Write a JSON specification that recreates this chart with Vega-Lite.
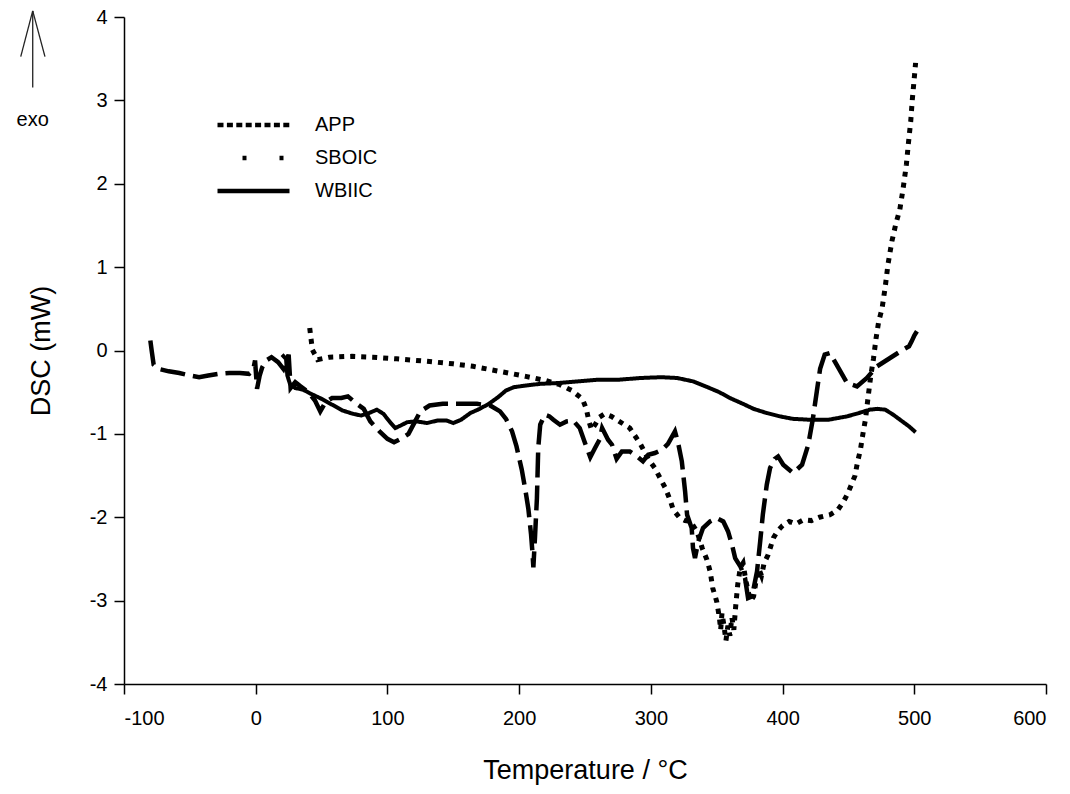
{
  "$schema": "https://vega.github.io/schema/vega-lite/v6.json",
  "width": 922,
  "height": 667,
  "autosize": {"type": "none"},
  "padding": {"left": 124, "top": 17, "right": 24, "bottom": 110},
  "background": "white",
  "config": {
    "view": {"stroke": null},
    "font": "Liberation Sans",
    "axis": {"grid": false, "domainColor": "black", "domainWidth": 1.5, "tickColor": "black", "tickWidth": 1.5, "tickSize": 10, "labelColor": "black", "labelFont": "Liberation Sans", "labelFontSize": 20, "titleFont": "Liberation Sans", "titleFontSize": 27, "titleFontWeight": "normal", "titleColor": "black", "labelExpr": "datum.value + ''"}
  },
  "resolve": {"scale": {"strokeDash": "independent"}, "legend": {"strokeDash": "independent"}},
  "datasets": {
    "dsc": [
      {"s":"APP","T":41,"v":0.27},{"s":"APP","T":42,"v":0.14},{"s":"APP","T":43,"v":0.01},{"s":"APP","T":47,"v":-0.11},{"s":"APP","T":56,"v":-0.08},{"s":"APP","T":73,"v":-0.07},{"s":"APP","T":89,"v":-0.08},{"s":"APP","T":107,"v":-0.10},{"s":"APP","T":130,"v":-0.13},{"s":"APP","T":150,"v":-0.16},{"s":"APP","T":165,"v":-0.19},{"s":"APP","T":185,"v":-0.25},{"s":"APP","T":205,"v":-0.31},{"s":"APP","T":220,"v":-0.36},{"s":"APP","T":231,"v":-0.41},{"s":"APP","T":240,"v":-0.48},{"s":"APP","T":244,"v":-0.53},{"s":"APP","T":248,"v":-0.58},{"s":"APP","T":251,"v":-0.70},{"s":"APP","T":253,"v":-0.85},{"s":"APP","T":255,"v":-0.95},{"s":"APP","T":258,"v":-0.88},{"s":"APP","T":261,"v":-0.80},{"s":"APP","T":265,"v":-0.76},{"s":"APP","T":270,"v":-0.79},{"s":"APP","T":275,"v":-0.84},{"s":"APP","T":284,"v":-0.93},{"s":"APP","T":292,"v":-1.12},{"s":"APP","T":298,"v":-1.30},{"s":"APP","T":303,"v":-1.41},{"s":"APP","T":307,"v":-1.53},{"s":"APP","T":311,"v":-1.65},{"s":"APP","T":314.5,"v":-1.79},{"s":"APP","T":317,"v":-1.91},{"s":"APP","T":322,"v":-2.01},{"s":"APP","T":326,"v":-2.04},{"s":"APP","T":330,"v":-2.05},{"s":"APP","T":335,"v":-2.17},{"s":"APP","T":339,"v":-2.37},{"s":"APP","T":342.6,"v":-2.51},{"s":"APP","T":345,"v":-2.65},{"s":"APP","T":347,"v":-2.85},{"s":"APP","T":350,"v":-3.01},{"s":"APP","T":352,"v":-3.2},{"s":"APP","T":353,"v":-3.35},{"s":"APP","T":354,"v":-3.15},{"s":"APP","T":355.5,"v":-3.3},{"s":"APP","T":357,"v":-3.48},{"s":"APP","T":358.5,"v":-3.3},{"s":"APP","T":360,"v":-3.42},{"s":"APP","T":361.5,"v":-3.2},{"s":"APP","T":363,"v":-3.35},{"s":"APP","T":364.5,"v":-3.05},{"s":"APP","T":366,"v":-2.8},{"s":"APP","T":368,"v":-2.6},{"s":"APP","T":370,"v":-2.55},{"s":"APP","T":372,"v":-2.75},{"s":"APP","T":374,"v":-2.9},{"s":"APP","T":376,"v":-3.0},{"s":"APP","T":378,"v":-2.95},{"s":"APP","T":380,"v":-2.75},{"s":"APP","T":382,"v":-2.62},{"s":"APP","T":384,"v":-2.7},{"s":"APP","T":386,"v":-2.55},{"s":"APP","T":389,"v":-2.45},{"s":"APP","T":391,"v":-2.35},{"s":"APP","T":393,"v":-2.25},{"s":"APP","T":396,"v":-2.17},{"s":"APP","T":400,"v":-2.1},{"s":"APP","T":405,"v":-2.05},{"s":"APP","T":410,"v":-2.08},{"s":"APP","T":416,"v":-2.03},{"s":"APP","T":422,"v":-2.04},{"s":"APP","T":428,"v":-2.0},{"s":"APP","T":436,"v":-1.97},{"s":"APP","T":442,"v":-1.91},{"s":"APP","T":446,"v":-1.82},{"s":"APP","T":449,"v":-1.73},{"s":"APP","T":452,"v":-1.62},{"s":"APP","T":455,"v":-1.5},{"s":"APP","T":457,"v":-1.33},{"s":"APP","T":459,"v":-1.2},{"s":"APP","T":461,"v":-1.0},{"s":"APP","T":463,"v":-0.82},{"s":"APP","T":465,"v":-0.55},{"s":"APP","T":467,"v":-0.3},{"s":"APP","T":469,"v":-0.1},{"s":"APP","T":471,"v":0.15},{"s":"APP","T":473,"v":0.35},{"s":"APP","T":475.5,"v":0.5},{"s":"APP","T":478,"v":0.77},{"s":"APP","T":480,"v":1.03},{"s":"APP","T":483,"v":1.31},{"s":"APP","T":486,"v":1.52},{"s":"APP","T":489,"v":1.69},{"s":"APP","T":491.5,"v":1.94},{"s":"APP","T":494,"v":2.23},{"s":"APP","T":495.5,"v":2.48},{"s":"APP","T":497.3,"v":2.75},{"s":"APP","T":498.5,"v":3.01},{"s":"APP","T":500,"v":3.27},{"s":"APP","T":501,"v":3.45},
      {"s":"SBOIC","T":-80,"v":0.12},{"s":"SBOIC","T":-79,"v":0.0},{"s":"SBOIC","T":-77.5,"v":-0.17},{"s":"SBOIC","T":-74,"v":-0.22},{"s":"SBOIC","T":-66,"v":-0.25},{"s":"SBOIC","T":-58,"v":-0.27},{"s":"SBOIC","T":-50,"v":-0.3},{"s":"SBOIC","T":-43,"v":-0.32},{"s":"SBOIC","T":-36,"v":-0.3},{"s":"SBOIC","T":-28,"v":-0.28},{"s":"SBOIC","T":-20,"v":-0.27},{"s":"SBOIC","T":-12,"v":-0.27},{"s":"SBOIC","T":-5,"v":-0.28},{"s":"SBOIC","T":-2,"v":-0.24},{"s":"SBOIC","T":-0.5,"v":-0.12},{"s":"SBOIC","T":1,"v":-0.46},{"s":"SBOIC","T":3,"v":-0.3},{"s":"SBOIC","T":5,"v":-0.2},{"s":"SBOIC","T":8,"v":-0.12},{"s":"SBOIC","T":12,"v":-0.08},{"s":"SBOIC","T":17,"v":-0.14},{"s":"SBOIC","T":21,"v":-0.22},{"s":"SBOIC","T":25,"v":-0.05},{"s":"SBOIC","T":26.5,"v":-0.45},{"s":"SBOIC","T":30,"v":-0.38},{"s":"SBOIC","T":34,"v":-0.43},{"s":"SBOIC","T":40,"v":-0.5},{"s":"SBOIC","T":45,"v":-0.6},{"s":"SBOIC","T":49,"v":-0.73},{"s":"SBOIC","T":53,"v":-0.62},{"s":"SBOIC","T":58,"v":-0.57},{"s":"SBOIC","T":65,"v":-0.57},{"s":"SBOIC","T":70,"v":-0.55},{"s":"SBOIC","T":76,"v":-0.63},{"s":"SBOIC","T":82,"v":-0.7},{"s":"SBOIC","T":87,"v":-0.85},{"s":"SBOIC","T":94,"v":-0.97},{"s":"SBOIC","T":100,"v":-1.06},{"s":"SBOIC","T":105,"v":-1.1},{"s":"SBOIC","T":110,"v":-1.06},{"s":"SBOIC","T":116,"v":-1.0},{"s":"SBOIC","T":120,"v":-0.88},{"s":"SBOIC","T":125,"v":-0.73},{"s":"SBOIC","T":132,"v":-0.66},{"s":"SBOIC","T":142,"v":-0.64},{"s":"SBOIC","T":155,"v":-0.64},{"s":"SBOIC","T":168,"v":-0.64},{"s":"SBOIC","T":178,"v":-0.66},{"s":"SBOIC","T":185.5,"v":-0.73},{"s":"SBOIC","T":190,"v":-0.82},{"s":"SBOIC","T":194.6,"v":-0.97},{"s":"SBOIC","T":198,"v":-1.15},{"s":"SBOIC","T":202,"v":-1.43},{"s":"SBOIC","T":205,"v":-1.7},{"s":"SBOIC","T":207,"v":-1.9},{"s":"SBOIC","T":209,"v":-2.2},{"s":"SBOIC","T":210,"v":-2.4},{"s":"SBOIC","T":210.8,"v":-2.6},{"s":"SBOIC","T":212,"v":-2.25},{"s":"SBOIC","T":213.5,"v":-1.77},{"s":"SBOIC","T":214.5,"v":-1.17},{"s":"SBOIC","T":216,"v":-0.89},{"s":"SBOIC","T":219.5,"v":-0.77},{"s":"SBOIC","T":223,"v":-0.79},{"s":"SBOIC","T":226,"v":-0.83},{"s":"SBOIC","T":231,"v":-0.89},{"s":"SBOIC","T":236,"v":-0.85},{"s":"SBOIC","T":241,"v":-0.84},{"s":"SBOIC","T":246,"v":-0.93},{"s":"SBOIC","T":250,"v":-1.11},{"s":"SBOIC","T":254,"v":-1.28},{"s":"SBOIC","T":257.6,"v":-1.17},{"s":"SBOIC","T":261,"v":-1.07},{"s":"SBOIC","T":263,"v":-0.93},{"s":"SBOIC","T":267.5,"v":-1.07},{"s":"SBOIC","T":270.5,"v":-1.13},{"s":"SBOIC","T":274,"v":-1.3},{"s":"SBOIC","T":278,"v":-1.21},{"s":"SBOIC","T":284,"v":-1.21},{"s":"SBOIC","T":289.5,"v":-1.27},{"s":"SBOIC","T":294,"v":-1.33},{"s":"SBOIC","T":298,"v":-1.25},{"s":"SBOIC","T":303,"v":-1.23},{"s":"SBOIC","T":308.5,"v":-1.19},{"s":"SBOIC","T":313,"v":-1.12},{"s":"SBOIC","T":318.3,"v":-0.97},{"s":"SBOIC","T":320.6,"v":-1.1},{"s":"SBOIC","T":323.5,"v":-1.33},{"s":"SBOIC","T":326,"v":-1.69},{"s":"SBOIC","T":327.5,"v":-1.97},{"s":"SBOIC","T":331,"v":-2.13},{"s":"SBOIC","T":332,"v":-2.37},{"s":"SBOIC","T":333.5,"v":-2.49},{"s":"SBOIC","T":336,"v":-2.29},{"s":"SBOIC","T":339.6,"v":-2.13},{"s":"SBOIC","T":345,"v":-2.05},{"s":"SBOIC","T":350,"v":-2.01},{"s":"SBOIC","T":355,"v":-2.05},{"s":"SBOIC","T":358.6,"v":-2.17},{"s":"SBOIC","T":361.6,"v":-2.33},{"s":"SBOIC","T":364,"v":-2.49},{"s":"SBOIC","T":368,"v":-2.59},{"s":"SBOIC","T":371.5,"v":-2.73},{"s":"SBOIC","T":373.8,"v":-2.97},{"s":"SBOIC","T":376.8,"v":-2.95},{"s":"SBOIC","T":380.6,"v":-2.65},{"s":"SBOIC","T":383,"v":-2.29},{"s":"SBOIC","T":385,"v":-1.97},{"s":"SBOIC","T":388,"v":-1.61},{"s":"SBOIC","T":390.5,"v":-1.41},{"s":"SBOIC","T":394,"v":-1.3},{"s":"SBOIC","T":396.6,"v":-1.27},{"s":"SBOIC","T":400.5,"v":-1.37},{"s":"SBOIC","T":408,"v":-1.47},{"s":"SBOIC","T":414.8,"v":-1.37},{"s":"SBOIC","T":419.5,"v":-1.13},{"s":"SBOIC","T":423,"v":-0.82},{"s":"SBOIC","T":426,"v":-0.49},{"s":"SBOIC","T":428.5,"v":-0.22},{"s":"SBOIC","T":432,"v":-0.05},{"s":"SBOIC","T":436,"v":-0.03},{"s":"SBOIC","T":441,"v":-0.17},{"s":"SBOIC","T":449,"v":-0.39},{"s":"SBOIC","T":456.5,"v":-0.43},{"s":"SBOIC","T":464,"v":-0.33},{"s":"SBOIC","T":471.7,"v":-0.19},{"s":"SBOIC","T":481.6,"v":-0.09},{"s":"SBOIC","T":491.5,"v":0.01},{"s":"SBOIC","T":496,"v":0.05},{"s":"SBOIC","T":498,"v":0.11},{"s":"SBOIC","T":500,"v":0.18},{"s":"SBOIC","T":502,"v":0.23},
      {"s":"WBIIC","T":20,"v":-0.05},{"s":"WBIIC","T":23,"v":-0.1},{"s":"WBIIC","T":24,"v":-0.3},{"s":"WBIIC","T":26,"v":-0.4},{"s":"WBIIC","T":30,"v":-0.45},{"s":"WBIIC","T":36,"v":-0.47},{"s":"WBIIC","T":42,"v":-0.52},{"s":"WBIIC","T":50,"v":-0.58},{"s":"WBIIC","T":58,"v":-0.65},{"s":"WBIIC","T":66,"v":-0.72},{"s":"WBIIC","T":74,"v":-0.76},{"s":"WBIIC","T":80,"v":-0.78},{"s":"WBIIC","T":86,"v":-0.75},{"s":"WBIIC","T":92,"v":-0.71},{"s":"WBIIC","T":97,"v":-0.76},{"s":"WBIIC","T":102,"v":-0.86},{"s":"WBIIC","T":106,"v":-0.93},{"s":"WBIIC","T":110,"v":-0.9},{"s":"WBIIC","T":115,"v":-0.86},{"s":"WBIIC","T":122,"v":-0.85},{"s":"WBIIC","T":130,"v":-0.87},{"s":"WBIIC","T":138,"v":-0.84},{"s":"WBIIC","T":145,"v":-0.84},{"s":"WBIIC","T":150,"v":-0.87},{"s":"WBIIC","T":156,"v":-0.83},{"s":"WBIIC","T":163,"v":-0.75},{"s":"WBIIC","T":170,"v":-0.7},{"s":"WBIIC","T":177,"v":-0.64},{"s":"WBIIC","T":184,"v":-0.56},{"s":"WBIIC","T":190,"v":-0.48},{"s":"WBIIC","T":196,"v":-0.44},{"s":"WBIIC","T":205,"v":-0.42},{"s":"WBIIC","T":216,"v":-0.4},{"s":"WBIIC","T":230,"v":-0.39},{"s":"WBIIC","T":245,"v":-0.37},{"s":"WBIIC","T":260,"v":-0.35},{"s":"WBIIC","T":276,"v":-0.35},{"s":"WBIIC","T":292,"v":-0.33},{"s":"WBIIC","T":308,"v":-0.32},{"s":"WBIIC","T":320,"v":-0.33},{"s":"WBIIC","T":332,"v":-0.37},{"s":"WBIIC","T":343,"v":-0.44},{"s":"WBIIC","T":352,"v":-0.5},{"s":"WBIIC","T":360,"v":-0.57},{"s":"WBIIC","T":370,"v":-0.64},{"s":"WBIIC","T":378,"v":-0.7},{"s":"WBIIC","T":388,"v":-0.75},{"s":"WBIIC","T":398,"v":-0.79},{"s":"WBIIC","T":408,"v":-0.82},{"s":"WBIIC","T":420,"v":-0.83},{"s":"WBIIC","T":435,"v":-0.83},{"s":"WBIIC","T":449,"v":-0.79},{"s":"WBIIC","T":458,"v":-0.75},{"s":"WBIIC","T":466,"v":-0.71},{"s":"WBIIC","T":472,"v":-0.7},{"s":"WBIIC","T":478,"v":-0.71},{"s":"WBIIC","T":484,"v":-0.77},{"s":"WBIIC","T":490,"v":-0.84},{"s":"WBIIC","T":496,"v":-0.91},{"s":"WBIIC","T":501,"v":-0.98}
    ],
    "arrow": [
      {"x":-169.3,"y":4.073,"x2":-169.3,"y2":3.153},
      {"x":-169.3,"y":4.073,"x2":-178.4,"y2":3.525},
      {"x":-169.3,"y":4.073,"x2":-160.0,"y2":3.525}
    ],
    "note": [{"x":-169.3,"y":2.77,"label":"exo"}]
  },
  "layer": [
    {
      "data": {"name": "dsc"},
      "mark": {"type": "line", "color": "black", "strokeCap": "butt", "strokeJoin": "miter"},
      "encoding": {
        "x": {"field": "T", "type": "quantitative", "scale": {"domain": [-100, 600], "nice": false, "zero": false},
              "axis": {"values": [-100,0,100,200,300,400,500,600], "title": "Temperature / °C", "labelPadding": 14, "titlePadding": 29}},
        "y": {"field": "v", "type": "quantitative", "scale": {"domain": [-4, 4], "nice": false, "zero": false},
              "axis": {"values": [-4,-3,-2,-1,0,1,2,3,4], "title": "DSC (mW)", "labelPadding": 7, "titlePadding": 34}},
        "strokeDash": {"field": "s", "type": "nominal",
          "scale": {"domain": ["APP","SBOIC","WBIIC"], "range": [[5,6],[25,8],[1,0]]},
          "legend": null},
        "strokeWidth": {"field": "s", "type": "nominal", "scale": {"domain": ["APP","SBOIC","WBIIC"], "range": [5, 4, 3.5]}, "legend": null}
      }
    },
    {
      "data": {"name": "dsc"},
      "transform": [{"aggregate": [{"op": "min", "field": "T", "as": "T"}, {"op": "min", "field": "v", "as": "v"}], "groupby": ["s"]}],
      "mark": {"type": "line", "color": "black", "strokeCap": "butt"},
      "encoding": {
        "x": {"field": "T", "type": "quantitative"},
        "y": {"field": "v", "type": "quantitative"},
        "strokeDash": {"field": "s", "type": "nominal",
          "scale": {"domain": ["APP","SBOIC","WBIIC"], "range": [[6,3.4],[0,25,4,33,4,20],[1,0]]},
          "legend": {"title": null, "orient": "none", "legendX": 91, "legendY": 98, "symbolType": "stroke", "symbolSize": 5184, "symbolStrokeWidth": 4.5, "symbolStrokeColor": "black", "labelFont": "Liberation Sans", "labelFontSize": 20, "labelColor": "black", "labelOffset": 23, "clipHeight": 20, "rowPadding": 13, "padding": 0}}
      }
    },
    {
      "data": {"name": "arrow"},
      "mark": {"type": "rule", "color": "#222", "strokeWidth": 1.3},
      "encoding": {
        "x": {"field": "x", "type": "quantitative"},
        "y": {"field": "y", "type": "quantitative"},
        "x2": {"field": "x2"},
        "y2": {"field": "y2"}
      }
    },
    {
      "data": {"name": "note"},
      "mark": {"type": "text", "font": "Liberation Sans", "fontSize": 20, "color": "black", "baseline": "middle", "align": "center"},
      "encoding": {
        "x": {"field": "x", "type": "quantitative"},
        "y": {"field": "y", "type": "quantitative"},
        "text": {"field": "label"}
      }
    }
  ]
}
